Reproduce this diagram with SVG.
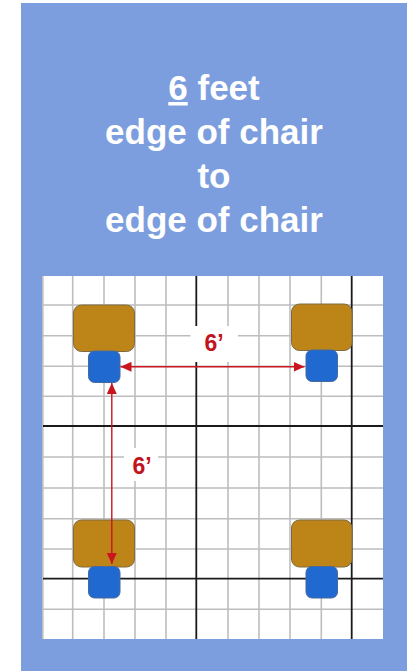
<svg xmlns="http://www.w3.org/2000/svg" width="414" height="671" viewBox="0 0 414 671">
<style>
.title{font-family:"Liberation Sans",Arial,sans-serif;font-weight:700;font-size:35px;fill:#fff;text-anchor:middle}
.g{stroke:#bdbdbd;stroke-width:1.6;fill:none}
.k{stroke:#1a1a1a;stroke-width:1.8;fill:none}
.seat{fill:#bd8517;stroke:#7d6b45;stroke-width:1}
.foot{fill:#1f69d1;stroke:#48699c;stroke-width:1}
.dim{stroke:#c9151e;stroke-width:1.4;fill:none}
.lbl{font-family:"Liberation Sans",Arial,sans-serif;font-weight:700;font-size:23px;fill:#c11420;text-anchor:middle}
</style>
<defs>
<marker id="a" markerUnits="userSpaceOnUse" viewBox="0 0 11 10" refX="11" refY="5" markerWidth="11" markerHeight="10" orient="auto-start-reverse"><path d="M0 0L11 5L0 10Z" fill="#c9151e"/></marker>
</defs>
<rect width="414" height="671" fill="#fff"/>
<rect x="21" y="3" width="386" height="668" fill="#7c9ede"/>
<text class="title" x="214" y="100"><tspan text-decoration="underline">6</tspan> feet</text>
<text class="title" x="214" y="144">edge of chair</text>
<text class="title" x="214" y="188">to</text>
<text class="title" x="214" y="232">edge of chair</text>
<g id="grid">
<rect x="42.5" y="276" width="340.5" height="363" fill="#fff"/>
<path class="g" d="M42.8 276V639M72.7 276V639M104 276V639M135 276V639M166 276V639M228 276V639M259 276V639M290 276V639M321.3 276V639M43 305H383M43 335.7H383M43 366.3H383M43 396.3H383M43 457H383M43 488H383M43 518.7H383M43 549H383M43 609.3H383"/>
<path class="k" d="M196.3 276V639M351.7 276V639M43 426H383M43 578.7H383"/>
<rect x="190.5" y="326" width="47.5" height="36" fill="#fff"/>
<rect x="124" y="448" width="34" height="33" fill="#fff"/>
</g>
<g id="chair-top-left"><rect class="seat" x="73.5" y="305" width="61" height="46.5" rx="8"/><rect class="foot" x="88.5" y="351" width="31.5" height="31.5" rx="6"/></g>
<g id="chair-top-right"><rect class="seat" x="291.5" y="304" width="60.5" height="46.5" rx="8"/><rect class="foot" x="306" y="350" width="31.5" height="31.5" rx="6"/></g>
<g id="chair-bottom-left"><rect class="seat" x="73.5" y="520" width="61" height="47" rx="8"/><rect class="foot" x="88.5" y="566.5" width="31.5" height="31.5" rx="6"/></g>
<g id="chair-bottom-right"><rect class="seat" x="291.5" y="520" width="60.5" height="47" rx="8"/><rect class="foot" x="306" y="566.5" width="31.5" height="31.5" rx="6"/></g>
<g id="connectors">
<line class="dim" x1="120.5" y1="366.8" x2="304.5" y2="366.8" marker-start="url(#a)" marker-end="url(#a)"/>
<line class="dim" x1="111.8" y1="383" x2="111.8" y2="564" marker-start="url(#a)" marker-end="url(#a)"/>
</g>
<text class="lbl" x="214" y="351">6’</text>
<text class="lbl" x="142" y="474">6’</text>
</svg>
